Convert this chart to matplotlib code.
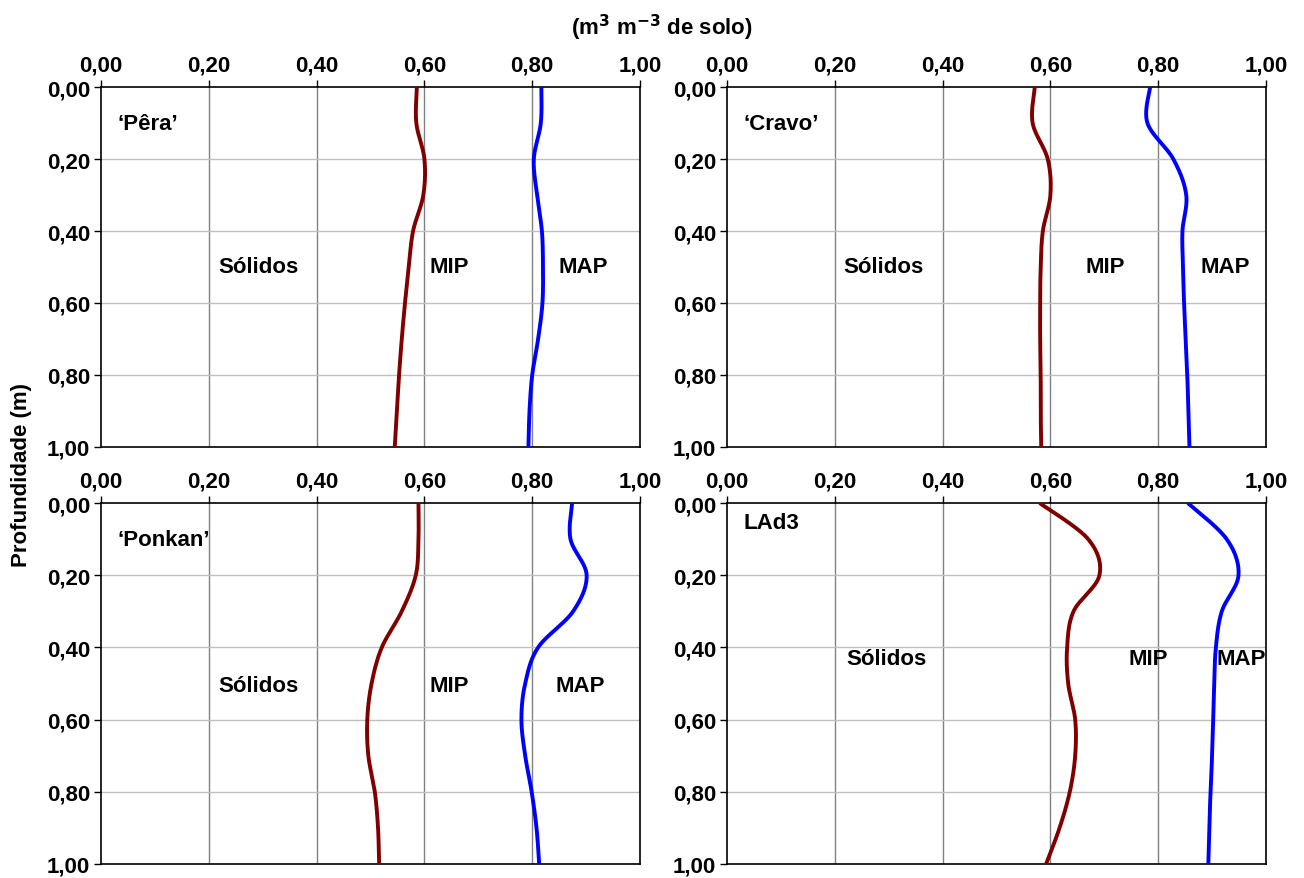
import numpy as np
import matplotlib.pyplot as plt

# profundidade (m) e frações (m3 m-3 de solo)
prof = [0.0, 0.1, 0.2, 0.3, 0.4, 0.5, 0.6, 0.7, 0.8, 0.9, 1.0]

pera_mip = [0.586, 0.585, 0.600, 0.598, 0.579, 0.571, 0.564, 0.558, 0.553, 0.549, 0.545]
pera_map = [0.817, 0.816, 0.803, 0.809, 0.818, 0.820, 0.819, 0.811, 0.800, 0.795, 0.793]

cravo_mip = [0.571, 0.567, 0.595, 0.600, 0.586, 0.582, 0.581, 0.581, 0.582, 0.582, 0.583]
cravo_map = [0.785, 0.780, 0.828, 0.852, 0.845, 0.846, 0.848, 0.851, 0.854, 0.856, 0.858]

ponkan_mip = [0.589, 0.589, 0.584, 0.558, 0.521, 0.502, 0.494, 0.496, 0.508, 0.514, 0.516]
ponkan_map = [0.874, 0.871, 0.901, 0.876, 0.811, 0.787, 0.780, 0.787, 0.799, 0.808, 0.813]

lad3_mip = [0.580, 0.670, 0.691, 0.643, 0.631, 0.633, 0.646, 0.646, 0.636, 0.617, 0.592]
lad3_map = [0.855, 0.927, 0.949, 0.918, 0.907, 0.904, 0.902, 0.900, 0.897, 0.895, 0.893]

nomes = ["\u2018P\u00eara\u2019", "\u2018Cravo\u2019", "\u2018Ponkan\u2019", "LAd3"]
ticks = [0.0, 0.2, 0.4, 0.6, 0.8, 1.0]
tick_lbl = ["0,00", "0,20", "0,40", "0,60", "0,80", "1,00"]

# posições dos rótulos (x, y) em cada painel: Sólidos, MIP, MAP, nome
rot_pos = [
    [(0.293, 0.50), (0.647, 0.50), (0.894, 0.50), (0.03, 0.10)],
    [(0.291, 0.50), (0.701, 0.50), (0.924, 0.50), (0.03, 0.10)],
    [(0.293, 0.505), (0.647, 0.505), (0.890, 0.505), (0.03, 0.10)],
    [(0.295, 0.432), (0.781, 0.432), (0.954, 0.432), (0.03, 0.055)],
]

plt.rcParams['font.family'] = ['Liberation Sans', 'DejaVu Sans']
plt.rcParams['font.weight'] = 'bold'


def suaviza(x, y, n=30):
    # curva suavizada tipo Excel (Catmull-Rom / Bezier), em escala de pixels
    sx, sy = 539.0, 360.0
    p = np.column_stack([np.array(x) * sx, np.array(y) * sy])
    p = np.vstack([p[0], p, p[-1]])
    out = []
    t = np.linspace(0, 1, n)[:, None]
    for i in range(1, len(p) - 2):
        p0, p1, p2, p3 = p[i - 1], p[i], p[i + 1], p[i + 2]
        c1 = p1 + (p2 - p0) / 6.0
        c2 = p2 - (p3 - p1) / 6.0
        seg = ((1 - t) ** 3) * p1 + 3 * ((1 - t) ** 2) * t * c1 + 3 * (1 - t) * t ** 2 * c2 + t ** 3 * p2
        out.append(seg if i == 1 else seg[1:])
    out = np.vstack(out)
    return out[:, 0] / sx, out[:, 1] / sy


fig = plt.figure(figsize=(13.04, 8.79), dpi=100)
W, H = 1304.0, 879.0
rects = [
    (101 / W, 1 - 448 / H, 539 / W, 360 / H),
    (727 / W, 1 - 448 / H, 539 / W, 360 / H),
    (101 / W, 1 - 865 / H, 539 / W, 361 / H),
    (727 / W, 1 - 865 / H, 539 / W, 361 / H),
]
dados = [(pera_mip, pera_map), (cravo_mip, cravo_map),
         (ponkan_mip, ponkan_map), (lad3_mip, lad3_map)]

for k in range(4):
    ax = fig.add_axes(rects[k])
    mip, mapp = dados[k]
    x1, y1 = suaviza(mip, prof)
    x2, y2 = suaviza(mapp, prof)
    ax.plot(x1, y1, color='#800000', lw=2.8, solid_capstyle='butt', zorder=3)
    ax.plot(x2, y2, color='#0000FF', lw=2.8, solid_capstyle='butt', zorder=3)

    ax.set_xlim(0, 1)
    ax.set_ylim(1, 0)
    ax.xaxis.tick_top()
    ax.set_xticks(ticks)
    ax.set_xticklabels(tick_lbl, fontsize=16, fontweight='bold')
    ax.set_yticks(ticks)
    ax.set_yticklabels(tick_lbl, fontsize=16, fontweight='bold')
    ax.tick_params(axis='both', direction='out', length=5, width=1, pad=3)
    for xv in ticks[1:-1]:
        ax.axvline(xv, color='#808080', lw=1.0, zorder=1)
    for yv in ticks[1:-1]:
        ax.axhline(yv, color='#c0c0c0', lw=1.0, zorder=1)
    for s in ax.spines.values():
        s.set_linewidth(1.2)

    pos = rot_pos[k]
    for (tx, ty), txt in zip(pos[:3], ["S\u00f3lidos", "MIP", "MAP"]):
        ax.text(tx, ty, txt, ha='center', va='center', fontsize=16,
                fontweight='bold', zorder=4)
    ax.text(pos[3][0], pos[3][1], nomes[k], ha='left', va='center',
            fontsize=16, fontweight='bold', zorder=4)

fig.text(662 / W, 1 - 28 / H, "(m$^{\\mathbf{3}}$ m$^{\\mathbf{-3}}$ de solo)",
         ha='center', va='center', fontsize=16, fontweight='bold')
fig.text(22 / W, 1 - 475 / H, "Profundidade (m)", rotation=90, ha='center',
         va='center', fontsize=16, fontweight='bold')

fig.savefig('out.png', dpi=100)
